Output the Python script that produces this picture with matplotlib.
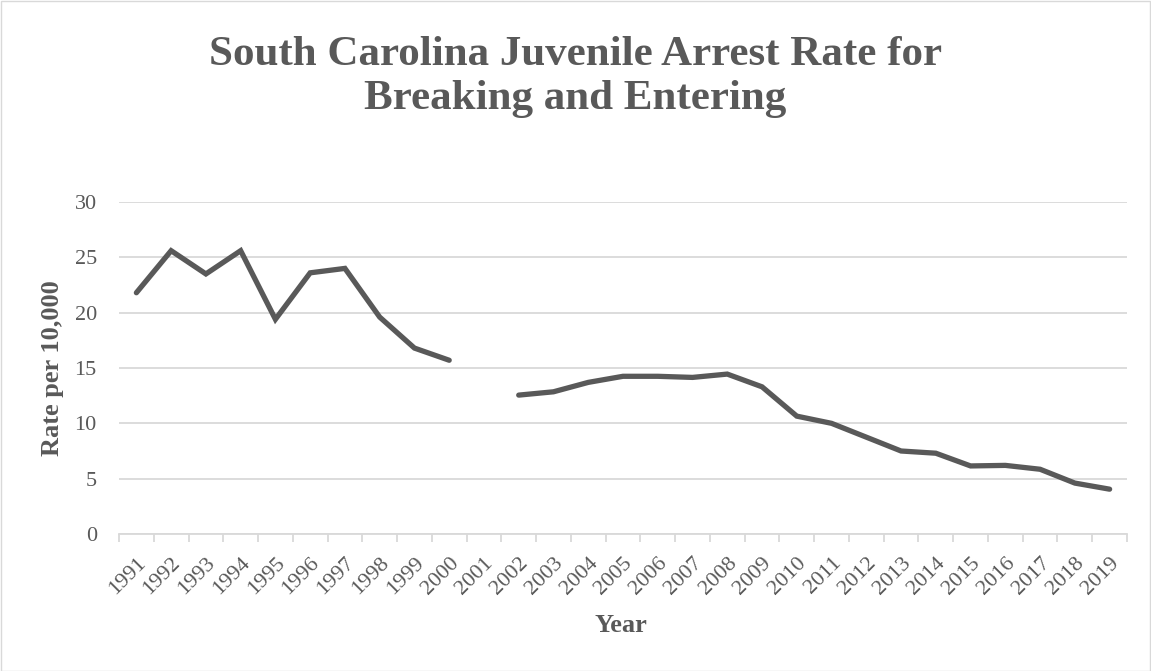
import numpy as np
import matplotlib.pyplot as plt
from matplotlib.patches import Rectangle

# Data (2001 missing)
years = list(range(1991, 2020))
rates = [21.8, 25.6, 23.5, 25.6, 19.4, 23.6, 24.0, 19.6, 16.8, 15.7,
         np.nan, 12.55, 12.85, 13.7, 14.25, 14.25, 14.15, 14.45, 13.3, 10.65,
         10.0, 8.75, 7.5, 7.3, 6.15, 6.2, 5.85, 4.6, 4.05]

TEXT = '#595959'
GRID = '#d9d9d9'

plt.rcParams['font.family'] = ['Liberation Serif', 'DejaVu Serif']

fig = plt.figure(figsize=(11.51, 6.71), dpi=100)
W, H = 1151, 671
left, right, top, bottom = 119, 1127, 202, 534
ax = fig.add_axes([left / W, 1 - bottom / H, (right - left) / W, (bottom - top) / H])

x = np.arange(len(years))
ax.plot(x, rates, color=TEXT, linewidth=3.8, solid_joinstyle='miter', solid_capstyle='round')

ax.set_xlim(-0.5, len(years) - 0.5)
ax.set_ylim(0, 30)
ax.set_yticks(range(0, 31, 5))
ax.grid(axis='y', color=GRID, linewidth=1.3)
ax.set_axisbelow(True)

for s in ['top', 'right', 'left']:
    ax.spines[s].set_visible(False)
ax.spines['bottom'].set_color(GRID)
ax.spines['bottom'].set_linewidth(1.3)

# Excel-style ticks between categories
ax.set_xticks(np.arange(-0.5, len(years), 1.0))
ax.set_xticklabels([])
ax.tick_params(axis='x', which='major', length=6, color=GRID, width=1.3)
ax.set_xticks(x, minor=True)
ax.set_xticklabels([str(y) for y in years], minor=True, rotation=45,
                   ha='right', va='top', rotation_mode='anchor',
                   fontsize=16, color=TEXT)
ax.tick_params(axis='x', which='minor', length=0, pad=14)
ax.tick_params(axis='y', length=0, labelsize=16, labelcolor=TEXT, pad=16)

ax.set_ylabel('Rate per 10,000', fontsize=19, fontweight='bold', color=TEXT)
ax.yaxis.set_label_coords((64 - left) / (right - left), 0.5)
ax.set_xlabel('Year', fontsize=19, fontweight='bold', color=TEXT)
ax.xaxis.set_label_coords((621 - left) / (right - left), (bottom - 614) / (bottom - top))

fig.text(0.5, 1 - 77 / H, 'South Carolina Juvenile Arrest Rate for\nBreaking and Entering',
         ha='center', va='center', fontsize=31, fontweight='bold', color=TEXT,
         linespacing=1.22)

fig.patches.append(Rectangle((0.5 / W, 0.5 / H), 1 - 1.5 / W, 1 - 1.5 / H,
                             transform=fig.transFigure, fill=False,
                             edgecolor=GRID, linewidth=1))

fig.savefig('out.png', dpi=100)
